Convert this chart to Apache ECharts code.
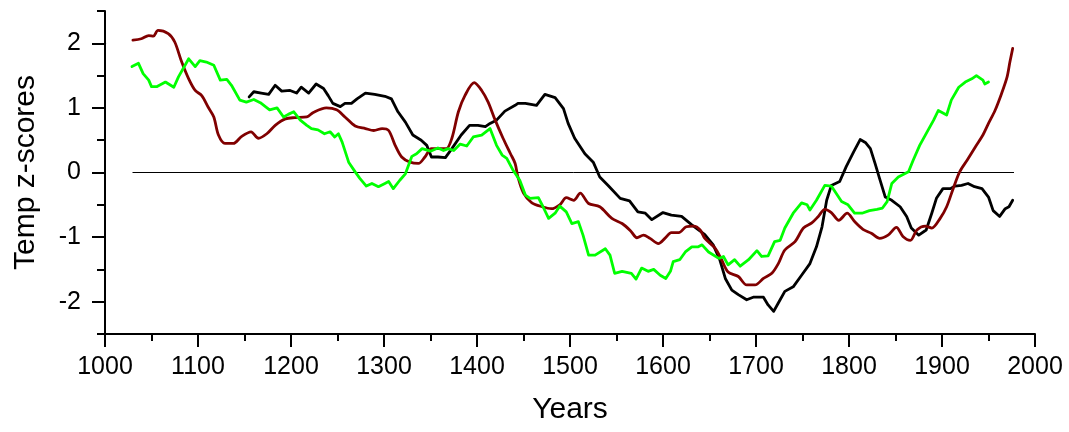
<!DOCTYPE html>
<html>
<head>
<meta charset="utf-8">
<title>Temp z-scores</title>
<script src="https://cdn.jsdelivr.net/npm/echarts@6/dist/echarts.min.js"></script>
<style>
  html, body { margin: 0; padding: 0; background: #ffffff; }
  #chart { width: 1069px; height: 432px; }
</style>
</head>
<body>
<div id="chart"></div>
<script>
// Reconstruction series (black)
const blackYears = [1155,1160,1168,1176,1183,1190,1199,1206,1211,1219,1227,1235,1240,1245,1253,1258,1265,1271,1280,1290,1301,1308,1315,1323,1331,1340,1346,1351,1358,1366,1373,1383,1392,1401,1409,1414,1421,1430,1441,1444,1452,1464,1473,1484,1493,1498,1505,1516,1525,1532,1541,1554,1564,1573,1581,1588,1600,1609,1620,1631,1645,1654,1661,1667,1674,1681,1690,1697,1708,1713,1719,1724,1731,1740,1749,1758,1765,1771,1776,1781,1790,1797,1805,1812,1818,1823,1828,1833,1839,1846,1855,1862,1867,1875,1883,1889,1894,1901,1909,1914,1921,1928,1935,1943,1950,1955,1962,1968,1972,1976];
const blackValues = [1.17,1.25,1.23,1.21,1.35,1.26,1.27,1.23,1.32,1.23,1.37,1.30,1.19,1.07,1.02,1.07,1.07,1.14,1.23,1.21,1.18,1.14,0.94,0.78,0.58,0.50,0.42,0.24,0.24,0.23,0.37,0.58,0.73,0.73,0.71,0.76,0.81,0.95,1.04,1.07,1.07,1.04,1.21,1.16,0.99,0.76,0.53,0.29,0.16,-0.07,-0.20,-0.40,-0.44,-0.61,-0.63,-0.73,-0.62,-0.66,-0.68,-0.81,-0.96,-1.12,-1.35,-1.64,-1.82,-1.89,-1.97,-1.93,-1.93,-2.05,-2.15,-2.02,-1.84,-1.77,-1.59,-1.41,-1.15,-0.84,-0.43,-0.20,-0.14,0.09,0.32,0.51,0.46,0.37,0.14,-0.10,-0.38,-0.43,-0.53,-0.68,-0.86,-0.97,-0.89,-0.63,-0.40,-0.25,-0.25,-0.21,-0.20,-0.17,-0.22,-0.25,-0.38,-0.59,-0.68,-0.56,-0.53,-0.43];

// Reconstruction series (dark red)
const redYears = [1030,1039,1047,1052,1057,1068,1075,1082,1090,1097,1104,1111,1117,1122,1129,1138,1147,1157,1165,1174,1183,1194,1204,1217,1224,1238,1249,1258,1269,1280,1289,1298,1305,1312,1319,1328,1337,1344,1351,1358,1367,1373,1380,1387,1397,1405,1412,1419,1428,1436,1441,1444,1450,1459,1470,1480,1489,1496,1504,1511,1520,1532,1545,1556,1565,1572,1579,1586,1595,1602,1609,1617,1625,1633,1640,1645,1656,1663,1670,1681,1690,1699,1708,1717,1724,1731,1742,1751,1760,1767,1774,1781,1789,1798,1806,1815,1824,1833,1842,1851,1858,1866,1873,1882,1889,1898,1905,1912,1919,1927,1936,1944,1950,1957,1964,1970,1973,1976];
const redValues = [2.05,2.07,2.12,2.11,2.20,2.15,2.02,1.73,1.45,1.27,1.19,1.01,0.86,0.58,0.45,0.45,0.56,0.63,0.53,0.60,0.73,0.83,0.85,0.86,0.93,1.00,0.97,0.86,0.72,0.68,0.65,0.68,0.65,0.42,0.24,0.16,0.14,0.24,0.37,0.37,0.37,0.53,0.94,1.19,1.39,1.27,1.09,0.83,0.53,0.29,0.14,-0.07,-0.32,-0.47,-0.53,-0.56,-0.50,-0.39,-0.43,-0.32,-0.48,-0.53,-0.71,-0.79,-0.90,-1.01,-0.97,-1.02,-1.10,-1.02,-0.93,-0.93,-0.84,-0.83,-0.89,-1.02,-1.17,-1.35,-1.54,-1.61,-1.74,-1.74,-1.64,-1.56,-1.41,-1.20,-1.07,-0.86,-0.78,-0.68,-0.57,-0.62,-0.74,-0.63,-0.76,-0.88,-0.94,-1.02,-0.97,-0.85,-0.99,-1.05,-0.89,-0.83,-0.86,-0.71,-0.53,-0.25,0.01,0.19,0.40,0.58,0.76,0.96,1.22,1.48,1.71,1.92];

// Reconstruction series (green)
const greenYears = [1029,1036,1041,1047,1050,1056,1065,1074,1079,1090,1097,1102,1109,1117,1124,1131,1136,1145,1152,1160,1167,1177,1185,1192,1197,1203,1210,1217,1222,1229,1236,1242,1247,1251,1255,1262,1269,1274,1281,1287,1294,1301,1305,1310,1317,1323,1330,1335,1341,1350,1358,1364,1369,1375,1382,1389,1396,1405,1414,1421,1427,1432,1439,1446,1452,1457,1466,1471,1477,1484,1489,1496,1502,1509,1514,1520,1527,1538,1543,1548,1556,1566,1571,1577,1584,1590,1597,1603,1608,1611,1618,1624,1631,1638,1642,1649,1660,1665,1670,1677,1683,1692,1701,1706,1713,1720,1726,1731,1740,1749,1755,1758,1765,1774,1781,1792,1799,1806,1814,1822,1830,1836,1841,1846,1853,1864,1869,1876,1884,1891,1896,1905,1910,1918,1925,1932,1937,1944,1946,1950];
const greenValues = [1.64,1.69,1.53,1.43,1.33,1.33,1.40,1.32,1.48,1.76,1.64,1.73,1.71,1.66,1.43,1.44,1.35,1.12,1.09,1.13,1.08,0.97,1.00,0.86,0.90,0.94,0.81,0.73,0.68,0.66,0.60,0.63,0.55,0.60,0.47,0.16,0.01,-0.09,-0.21,-0.17,-0.22,-0.17,-0.14,-0.25,-0.12,-0.02,0.25,0.29,0.37,0.33,0.38,0.34,0.37,0.34,0.44,0.41,0.55,0.58,0.68,0.42,0.27,0.22,0.03,-0.12,-0.35,-0.40,-0.39,-0.53,-0.71,-0.63,-0.52,-0.61,-0.79,-0.76,-0.97,-1.28,-1.28,-1.18,-1.28,-1.56,-1.53,-1.56,-1.65,-1.48,-1.53,-1.50,-1.59,-1.64,-1.53,-1.38,-1.35,-1.23,-1.15,-1.15,-1.12,-1.23,-1.33,-1.30,-1.43,-1.35,-1.45,-1.35,-1.21,-1.30,-1.29,-1.07,-1.05,-0.86,-0.63,-0.47,-0.50,-0.58,-0.43,-0.20,-0.21,-0.45,-0.50,-0.63,-0.63,-0.59,-0.57,-0.55,-0.45,-0.17,-0.07,0.01,0.19,0.42,0.63,0.81,0.96,0.89,1.12,1.32,1.40,1.45,1.50,1.43,1.37,1.40];

// Zero reference line
const zeroYears = [1030, 1977];
const zeroValues = [0, 0];

const pairs = (xs, ys) => xs.map((x, i) => [x, ys[i]]);

const FONT = '"Liberation Sans", Arial, Helvetica, sans-serif';
const INK = '#000000';

const chart = echarts.init(document.getElementById('chart'), null, { renderer: 'canvas' });

const lineSeries = (name, xs, ys, color, width, smooth) => ({
  name: name,
  type: 'line',
  xAxisIndex: 0,
  yAxisIndex: 0,
  data: pairs(xs, ys),
  showSymbol: false,
  symbol: 'none',
  smooth: smooth || false,
  lineStyle: { color: color, width: width, join: 'round', cap: 'round' },
  itemStyle: { color: color },
  emphasis: { disabled: true },
  silent: true
});

chart.setOption({
  animation: false,
  backgroundColor: '#ffffff',
  grid: [
    // main plot frame: y from -2.5 to 2.5
    { left: 105, right: 34, top: 11, bottom: 98, containLabel: false },
    // inner frame spanning -2 .. 2, carries the long integer ticks and labels
    { left: 105, right: 34, top: 43.3, bottom: 130.3, containLabel: false }
  ],
  xAxis: [
    {
      gridIndex: 0,
      type: 'value',
      min: 1000,
      max: 2000,
      interval: 100,
      name: 'Years',
      nameLocation: 'middle',
      nameGap: 61,
      nameTextStyle: { fontFamily: FONT, fontSize: 30, color: INK },
      axisLine: { show: true, onZero: false, lineStyle: { color: INK, width: 2 } },
      axisTick: { show: true, inside: false, length: 13, lineStyle: { color: INK, width: 2 } },
      minorTick: { show: true, splitNumber: 2, length: 7, lineStyle: { color: INK, width: 2 } },
      axisLabel: {
        fontFamily: FONT, fontSize: 25, color: INK, margin: 21,
        formatter: (v) => String(v)
      },
      splitLine: { show: false },
      minorSplitLine: { show: false }
    },
    {
      gridIndex: 1,
      type: 'value',
      min: 1000,
      max: 2000,
      show: false
    }
  ],
  yAxis: [
    {
      gridIndex: 0,
      type: 'value',
      min: -2.5,
      max: 2.5,
      interval: 0.5,
      name: 'Temp z-scores',
      nameLocation: 'middle',
      nameRotate: 90,
      nameGap: 64,
      nameTextStyle: { fontFamily: FONT, fontSize: 30, color: INK },
      axisLine: { show: true, onZero: false, lineStyle: { color: INK, width: 2 } },
      axisTick: { show: true, inside: false, length: 8, lineStyle: { color: INK, width: 2 } },
      axisLabel: { show: false },
      splitLine: { show: false }
    },
    {
      gridIndex: 1,
      type: 'value',
      min: -2,
      max: 2,
      interval: 1,
      axisLine: { show: true, onZero: false, lineStyle: { color: INK, width: 2 } },
      axisTick: { show: true, inside: false, length: 13, lineStyle: { color: INK, width: 2 } },
      axisLabel: { fontFamily: FONT, fontSize: 25, color: INK, margin: 24 },
      splitLine: { show: false }
    }
  ],
  series: [
    lineSeries('zero', zeroYears, zeroValues, INK, 1),
    lineSeries('black', blackYears, blackValues, '#000000', 2.8),
    // the dark red curve is a heavily filtered series, drawn as a gentle curve
    lineSeries('darkred', redYears, redValues, '#800000', 2.8, 0.3),
    lineSeries('green', greenYears, greenValues, '#00ff00', 2.8)
  ]
});
</script>
</body>
</html>
